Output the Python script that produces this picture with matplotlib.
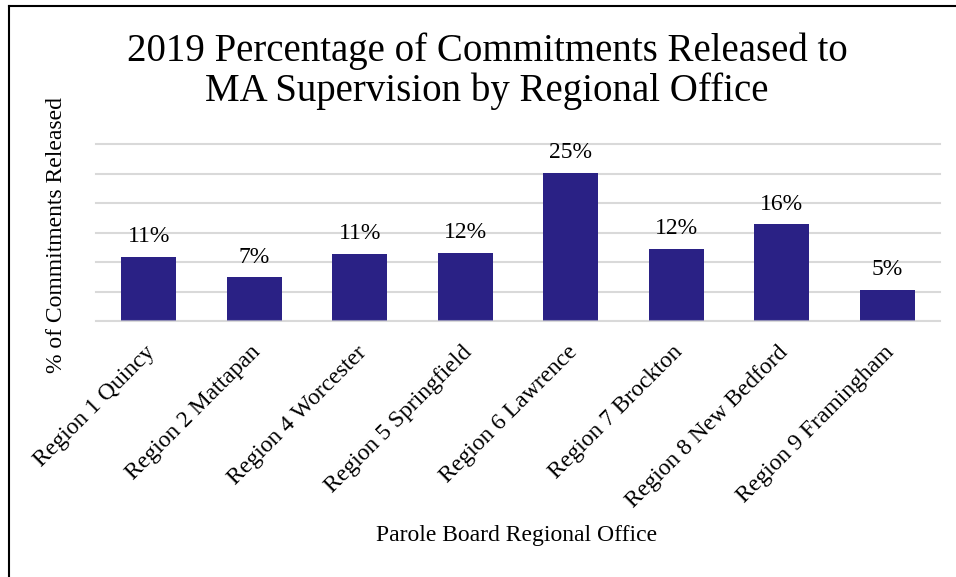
import matplotlib
matplotlib.use("Agg")
import matplotlib.pyplot as plt
from matplotlib.lines import Line2D
from matplotlib.transforms import ScaledTranslation

categories = ["Region 1 Quincy", "Region 2 Mattapan", "Region 4 Worcester",
              "Region 5 Springfield", "Region 6 Lawrence", "Region 7 Brockton",
              "Region 8 New Bedford", "Region 9 Framingham"]
values = [10.9, 7.4, 11.4, 11.6, 25.2, 12.2, 16.4, 5.3]
labels = ["11%", "7%", "11%", "12%", "25%", "12%", "16%", "5%"]

plt.rcParams['font.family'] = ['Liberation Serif', 'DejaVu Serif']

fig = plt.figure(figsize=(9.56, 5.77), dpi=100)
W, H = 956, 577
ax = fig.add_axes([96 / W, 1 - 321 / H, (940 - 96) / W, (321 - 144.3) / H])

x = list(range(len(categories)))
ax.bar(x, values, width=0.52, color="#2a2185", zorder=2)
for xi, v, lab in zip(x, values, labels):
    ax.annotate(lab, (xi, v), xytext=(0, 7), textcoords="offset points",
                ha="center", va="bottom", fontsize=17, color="#000000")

ax.set_xlim(-0.5, len(categories) - 0.5)
ax.set_ylim(0, 30)
ax.set_yticks([0, 5, 10, 15, 20, 25, 30])
ax.yaxis.grid(True, color="#d9d9d9", linewidth=1.5, zorder=0)
for gl in ax.get_ygridlines():
    gl.set_clip_on(False)
ax.axhline(0, color="#d9d9d9", linewidth=1.5, alpha=0.6, zorder=3)
ax.set_yticklabels([])
ax.tick_params(axis="y", length=0)
ax.tick_params(axis="x", length=0, pad=15)
ax.set_xticks(x)
ax.set_xticklabels(categories, rotation=45, ha="right", rotation_mode="anchor",
                   fontsize=17)
shift = ScaledTranslation(-4 / 100, 0, fig.dpi_scale_trans)
for t in ax.get_xticklabels():
    t.set_transform(t.get_transform() + shift)
for s in ax.spines.values():
    s.set_visible(False)
ax.set_axisbelow(True)

fig.text(57 / W, 1 - 235 / H, "% of Commitments Released", rotation=90,
         ha="center", va="center", fontsize=17)
fig.text(517 / W, 1 - 536 / H, "Parole Board Regional Office",
         ha="center", va="center", fontsize=17)
fig.text(487 / W, 1 - 71.5 / H, "2019 Percentage of Commitments Released to\nMA Supervision by Regional Office",
         ha="center", va="center", fontsize=28, linespacing=1.1)

# outer frame lines (left and top)
fig.add_artist(Line2D([8.5 / W, 8.5 / W], [0, 1 - 5.5 / H], color="black", linewidth=1.5,
                      transform=fig.transFigure))
fig.add_artist(Line2D([8.5 / W, 1], [1 - 5.5 / H, 1 - 5.5 / H], color="black", linewidth=1.5,
                      transform=fig.transFigure))

fig.savefig("out.png", dpi=100)
